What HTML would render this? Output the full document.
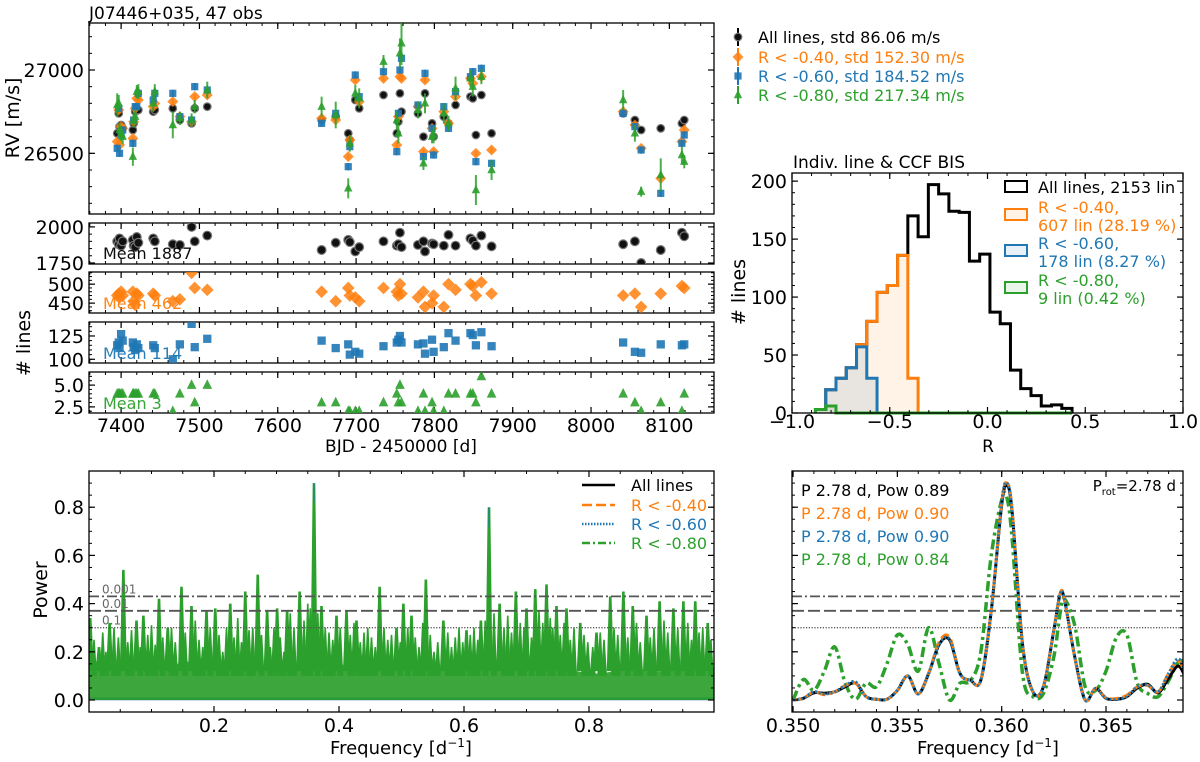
<!DOCTYPE html>
<html><head><meta charset="utf-8"><style>
html,body{margin:0;padding:0;background:#fff}
svg{display:block;font-family:"DejaVu Sans","Liberation Sans",sans-serif}
</style></head><body>
<svg id="fig" width="1200" height="762" viewBox="0 0 1200 762" xmlns="http://www.w3.org/2000/svg">
<defs>
<clipPath id="c-rv"><rect x="89" y="23" width="625" height="191"/></clipPath>
<clipPath id="c-s1"><rect x="89" y="223" width="625" height="41"/></clipPath>
<clipPath id="c-s2"><rect x="89" y="272" width="625" height="41"/></clipPath>
<clipPath id="c-s3"><rect x="89" y="322" width="625" height="41"/></clipPath>
<clipPath id="c-s4"><rect x="89" y="372" width="625" height="41"/></clipPath>
<clipPath id="c-pg"><rect x="89" y="471" width="625" height="241"/></clipPath>
<clipPath id="c-zm"><rect x="792" y="471" width="391" height="241"/></clipPath>
</defs>
<text x="89" y="19" font-size="17">J07446+035, 47 obs</text>
<text x="793" y="168" font-size="17">Indiv. line &amp; CCF BIS</text>
<text transform="translate(19,118) rotate(-90)" text-anchor="middle" font-size="19">RV [m/s]</text>
<text transform="translate(30,343) rotate(-90)" text-anchor="middle" font-size="19"># lines</text>
<text x="401" y="452" text-anchor="middle" font-size="17">BJD - 2450000 [d]</text>
<text transform="translate(745,292) rotate(-90)" text-anchor="middle" font-size="19"># lines</text>
<text x="988" y="452" text-anchor="middle" font-size="17">R</text>
<text transform="translate(47,590) rotate(-90)" text-anchor="middle" font-size="19">Power</text>
<text x="401" y="754" text-anchor="middle" font-size="18">Frequency [d<tspan dy="-7" font-size="12">−1</tspan><tspan dy="7">]</tspan></text>
<text x="988" y="754" text-anchor="middle" font-size="18">Frequency [d<tspan dy="-7" font-size="12">−1</tspan><tspan dy="7">]</tspan></text>
</svg>
<script>
// ---------- data ----------
const times=[7395,7397,7398,7400,7402,7415,7416,7418,7420,7422,7441,7443,7466,7475,7490,7494,7510,7656,7674,7690,7692,7699,7704,7735,7752,7754,7756,7758,7779,7786,7788,7797,7799,7812,7818,7827,7846,7849,7853,7860,7873,8041,8056,8064,8089,8116,8119];
const rvAll=[26620,26740,26660,26670,26650,26640,26680,26750,26760,26760,26750,26760,26770,26700,26680,26770,26780,26700,26720,26620,26580,26820,26770,26850,26620,26690,26860,26750,26740,26600,26860,26680,26600,26720,26680,26790,26840,26830,26610,26850,26620,26740,26700,26640,26650,26680,26700];
const rv040=[26570,26760,26550,26660,26650,26590,26690,26770,26830,26820,26780,26800,26810,26720,26690,26840,26850,26710,26700,26480,26580,26940,26810,26950,26550,26720,26960,26950,26780,26510,26940,26650,26510,26750,26680,26840,26950,26920,26500,26960,26520,26750,26670,26530,26350,26570,26640];
const rv060=[26530,26770,26500,26610,26640,26560,26700,26780,26780,26860,26820,26860,26860,26720,26700,26900,26880,26680,26740,26420,26540,26970,26840,26990,26510,26740,27000,27070,26790,26480,26980,26650,26490,26780,26650,26870,26960,26990,26450,27010,26440,26740,26660,26520,26260,26560,26610];
const rv080=[26790,26800,26640,26620,26600,26480,26700,26720,26870,26870,26800,26870,26670,26710,26700,26780,26880,26780,26730,26290,26560,26860,26830,27050,26700,26620,27100,27160,26760,26440,26800,26600,26610,26740,26680,26890,26950,26900,26280,26960,26400,26820,26620,26270,26370,26490,26450];
const errAll=[8,8,8,8,8,8,8,8,8,8,8,8,8,8,8,8,8,8,8,8,8,8,8,8,8,8,8,8,8,8,8,8,8,8,8,8,8,8,8,8,8,8,8,8,8,8,8];
const err040=[15,15,15,15,15,15,15,15,15,15,15,15,15,15,15,15,15,15,15,15,15,15,15,15,15,15,15,15,15,15,15,15,15,15,15,15,15,15,15,15,15,15,15,15,15,15,15];
const err060=[22,22,22,22,22,22,22,22,22,22,22,22,22,22,22,22,22,22,22,22,22,22,22,22,22,22,22,22,22,22,22,22,22,22,22,22,22,22,22,22,22,22,22,22,22,22,22];
const err080=[70,50,45,45,45,55,45,45,40,45,50,45,80,40,40,40,50,60,80,60,50,50,60,40,55,60,90,130,50,40,60,40,50,60,45,70,50,60,90,45,60,60,50,30,100,50,40];
const nAll=[1900,1880,1920,1870,1900,1910,1870,1860,1930,1890,1920,1900,1880,1875,2000,1900,1940,1840,1890,1910,1895,1830,1860,1900,1870,1880,1960,1860,1875,1900,1830,1885,1880,1870,1945,1870,1920,1905,1870,1940,1865,1880,1900,1750,1840,1960,1935];
const n040=[470,475,465,480,470,480,455,445,475,470,475,470,455,460,530,490,485,480,455,490,470,465,455,490,480,470,500,475,465,480,440,450,470,440,500,485,500,495,470,505,475,470,475,440,475,495,490];
const n060=[115,118,112,127,120,118,113,110,116,112,115,112,100,116,138,113,122,120,112,116,105,108,106,114,118,121,125,118,116,117,106,121,108,113,128,120,128,126,115,129,114,118,108,107,116,115,116];
const n080=[4,4,4,4,4,4,4,4,4,4,4,4,2,4,5,3,5,3,3,2,2,2,2,3,4,3,5,3,2,4,2,3,2,2,4,4,4,4,3,6,4,4,3,2,3,2,4];
const histStart=-0.88, histWidth=0.0525;
const histAll=[3,20,30,39,59,79,104,110,136,170,152,197,189,174,173,131,137,87,77,37,21,15,6,7,4];
const hist040=[3,20,30,39,59,79,104,110,136,30,0,0,0,0,0,0,0,0,0,0,0,0,0,0,0];
const hist060=[3,20,30,39,57,30,0,0,0,0,0,0,0,0,0,0,0,0,0,0,0,0,0,0,0];
const hist080=[3,6,0,0,0,0,0,0,0,0,0,0,0,0,0,0,0,0,0,0,0,0,0,0,0];
const fapLevels=[0.30,0.37,0.43];
const fapLabels=["0.1","0.01","0.001"];
const baseFreq=[0,0.02,0.04,0.06,0.08,0.1,0.12,0.14,0.16,0.18,0.2,0.22,0.24,0.26,0.28,0.3,0.32,0.34,0.36,0.38,0.4,0.42,0.44,0.46,0.48,0.5,0.52,0.54,0.56,0.58,0.6,0.62,0.64,0.66,0.68,0.7,0.72,0.74,0.76,0.78,0.8,0.82,0.84,0.86,0.88,0.9,0.92,0.94,0.96,0.98,1.0];
const basePow=[0.2,0.13,0.15,0.17,0.16,0.14,0.12,0.15,0.16,0.13,0.14,0.12,0.15,0.16,0.13,0.15,0.17,0.14,0.18,0.16,0.15,0.14,0.15,0.13,0.15,0.12,0.14,0.13,0.12,0.13,0.12,0.14,0.16,0.15,0.16,0.13,0.15,0.16,0.13,0.12,0.11,0.11,0.12,0.13,0.13,0.12,0.12,0.13,0.15,0.15,0.13];
const spikeFreq=[0.002,0.016,0.033,0.055,0.076,0.087,0.112,0.126,0.148,0.164,0.188,0.202,0.226,0.25,0.27,0.285,0.301,0.317,0.337,0.36,0.372,0.396,0.412,0.428,0.465,0.492,0.503,0.516,0.539,0.567,0.604,0.627,0.64,0.657,0.683,0.7,0.714,0.732,0.748,0.764,0.786,0.812,0.834,0.855,0.87,0.892,0.913,0.935,0.951,0.97,0.99];
const spikePow=[0.34,0.22,0.32,0.54,0.33,0.35,0.42,0.3,0.47,0.39,0.37,0.38,0.4,0.45,0.52,0.37,0.38,0.37,0.45,0.9,0.39,0.35,0.37,0.33,0.47,0.3,0.4,0.35,0.5,0.33,0.29,0.33,0.8,0.4,0.45,0.38,0.46,0.48,0.39,0.38,0.32,0.28,0.43,0.45,0.39,0.35,0.41,0.38,0.41,0.41,0.32];
const minorFreq=[0.008,0.022,0.027,0.04,0.047,0.062,0.068,0.082,0.094,0.1,0.106,0.118,0.132,0.138,0.154,0.17,0.176,0.182,0.194,0.208,0.214,0.22,0.232,0.238,0.244,0.256,0.262,0.276,0.29,0.296,0.306,0.312,0.322,0.328,0.344,0.35,0.354,0.366,0.378,0.384,0.39,0.402,0.418,0.424,0.434,0.44,0.446,0.452,0.458,0.472,0.478,0.484,0.498,0.51,0.522,0.528,0.534,0.546,0.552,0.558,0.574,0.58,0.586,0.592,0.598,0.61,0.616,0.622,0.634,0.648,0.664,0.67,0.676,0.69,0.696,0.708,0.72,0.726,0.738,0.742,0.754,0.76,0.77,0.776,0.792,0.798,0.806,0.818,0.824,0.84,0.846,0.862,0.876,0.882,0.898,0.904,0.92,0.926,0.942,0.958,0.964,0.976,0.982,0.995];
const minorPow=[0.25,0.28,0.2,0.3,0.26,0.24,0.29,0.22,0.27,0.31,0.23,0.26,0.3,0.24,0.28,0.33,0.25,0.22,0.3,0.27,0.2,0.3,0.26,0.34,0.24,0.29,0.3,0.27,0.22,0.3,0.26,0.2,0.36,0.3,0.33,0.4,0.38,0.36,0.3,0.28,0.25,0.3,0.27,0.32,0.24,0.28,0.3,0.26,0.22,0.3,0.25,0.27,0.24,0.3,0.26,0.22,0.32,0.27,0.2,0.24,0.28,0.22,0.26,0.3,0.24,0.27,0.3,0.25,0.33,0.36,0.3,0.35,0.28,0.32,0.3,0.26,0.37,0.32,0.34,0.3,0.27,0.32,0.25,0.3,0.27,0.24,0.22,0.28,0.25,0.3,0.27,0.26,0.32,0.24,0.26,0.3,0.33,0.28,0.3,0.32,0.25,0.28,0.3,0.25];
const zoomFreq=[0.3500,0.3505,0.3510,0.3515,0.3520,0.3525,0.3530,0.3535,0.3540,0.3545,0.3550,0.3555,0.3560,0.3565,0.3570,0.3575,0.3580,0.3585,0.3590,0.3595,0.3600,0.36025,0.3605,0.3610,0.3615,0.3620,0.3625,0.3628,0.3630,0.3635,0.3640,0.3645,0.3650,0.3655,0.3660,0.3665,0.3670,0.3675,0.3680,0.3685,0.3690];
const zoomAll=[0,0.007,0.03,0.028,0.034,0.055,0.07,0.014,0.003,0.003,0.04,0.1,0.025,0.11,0.23,0.25,0.11,0.082,0.082,0.37,0.81,0.89,0.78,0.23,0.034,0.055,0.29,0.44,0.42,0.18,0.0,0.048,0.007,0.003,0.014,0.05,0.065,0.03,0.09,0.14,0.05];
const zoom040=[0,0.007,0.034,0.022,0.034,0.06,0.07,0.014,0.003,0.003,0.04,0.1,0.025,0.11,0.24,0.26,0.11,0.082,0.082,0.37,0.82,0.90,0.79,0.23,0.034,0.055,0.29,0.44,0.42,0.18,0.0,0.048,0.01,0.006,0.02,0.055,0.06,0.034,0.11,0.16,0.055];
const zoom060=[0,0.007,0.034,0.025,0.034,0.06,0.075,0.014,0.003,0.003,0.04,0.1,0.025,0.11,0.23,0.253,0.11,0.082,0.082,0.37,0.82,0.90,0.78,0.23,0.034,0.055,0.29,0.44,0.42,0.18,0.0,0.048,0.007,0.003,0.014,0.055,0.062,0.034,0.11,0.17,0.055];
const zoom080=[0,0.085,0.04,0.12,0.22,0.07,0.003,0.07,0.055,0.15,0.27,0.23,0.12,0.30,0.15,0.0,0.07,0.08,0.2,0.60,0.83,0.84,0.67,0.11,0.014,0.027,0.18,0.36,0.42,0.31,0.055,0.04,0.12,0.26,0.27,0.07,0.027,0.014,0.08,0.16,0.15];
const peakTexts=["P 2.78 d, Pow 0.89","P 2.78 d, Pow 0.90","P 2.78 d, Pow 0.90","P 2.78 d, Pow 0.84"];

// ---------- helpers ----------
const NS='http://www.w3.org/2000/svg';
const svg=document.getElementById('fig');
const K='#000',O='#ff7f0e',B='#1f77b4',G='#2ca02c';
function mk(tag,attrs,parent){const e=document.createElementNS(NS,tag);for(const k in attrs)e.setAttribute(k,attrs[k]);(parent||svg).appendChild(e);return e;}
function lin(d0,d1,r0,r1){return v=>r0+(v-d0)/(d1-d0)*(r1-r0);}
function grp(clip,name){const g=mk('g',clip?{'clip-path':'url(#'+clip+')'}:{});return g;}
function range(a,b,s){const r=[];for(let v=a;v<=b+s*1e-6;v+=s)r.push(+v.toFixed(6));return r;}
function axes(name,x0,x1,y0,y1,sx,sy,xMaj,xMin,yMaj,yMin,xLab,yLab,xLabY){
  const g=grp(null,name);
  for(const v of xMin){const x=sx(v);if(x<x0||x>x1)continue;mk('line',{x1:x,x2:x,y1:y1,y2:y1-3,stroke:'#000','stroke-width':1},g);mk('line',{x1:x,x2:x,y1:y0,y2:y0+3,stroke:'#000','stroke-width':1},g);}
  for(const v of xMaj){const x=sx(v);if(x<x0-0.5||x>x1+0.5)continue;mk('line',{x1:x,x2:x,y1:y1,y2:y1-6,stroke:'#000','stroke-width':1.2},g);mk('line',{x1:x,x2:x,y1:y0,y2:y0+6,stroke:'#000','stroke-width':1.2},g);}
  for(const v of yMin){const y=sy(v);if(y<y0||y>y1)continue;mk('line',{x1:x0,x2:x0+3,y1:y,y2:y,stroke:'#000','stroke-width':1},g);mk('line',{x1:x1,x2:x1-3,y1:y,y2:y,stroke:'#000','stroke-width':1},g);}
  for(const v of yMaj){const y=sy(v);if(y<y0-0.5||y>y1+0.5)continue;mk('line',{x1:x0,x2:x0+6,y1:y,y2:y,stroke:'#000','stroke-width':1.2},g);mk('line',{x1:x1,x2:x1-6,y1:y,y2:y,stroke:'#000','stroke-width':1.2},g);}
  if(xLab)for(let i=0;i<xMaj.length;i++){const t=mk('text',{x:sx(xMaj[i]),y:xLabY,'text-anchor':'middle','font-size':19},g);t.textContent=xLab[i];}
  if(yLab)for(let i=0;i<yMaj.length;i++){const t=mk('text',{x:x0-5,y:sy(yMaj[i])+7,'text-anchor':'end','font-size':19},g);t.textContent=yLab[i];}
  const r=mk('rect',{x:x0,y:y0,width:x1-x0,height:y1-y0,fill:'none',stroke:'#000','stroke-width':1.3},g);
  
  
}
function marker(kind,x,y,color,g,s){
  s=s||1;let e;
  if(kind==='o'){e=mk('circle',{cx:x,cy:y,r:3.8*s,fill:'#111',stroke:'#777','stroke-width':1.2},g);}
  else if(kind==='d'){const a=5.5*s;e=mk('polygon',{points:`${x},${y-a} ${x+a},${y} ${x},${y+a} ${x-a},${y}`,fill:color,'fill-opacity':0.85},g);}
  else if(kind==='s'){const a=3.6*s;e=mk('rect',{x:x-a,y:y-a,width:2*a,height:2*a,fill:color,'fill-opacity':0.9},g);}
  else {const a=4.2*s;e=mk('polygon',{points:`${x},${y-a-1} ${x+a},${y+a-1} ${x-a},${y+a-1}`,fill:color,'fill-opacity':0.9},g);}
  return e;
}
function catmull(pts){let d=`M${pts[0][0]},${pts[0][1]}`;for(let i=0;i<pts.length-1;i++){const p0=pts[Math.max(0,i-1)],p1=pts[i],p2=pts[i+1],p3=pts[Math.min(pts.length-1,i+2)];const c1=[p1[0]+(p2[0]-p0[0])/6,p1[1]+(p2[1]-p0[1])/6],c2=[p2[0]-(p3[0]-p1[0])/6,p2[1]-(p3[1]-p1[1])/6];d+=`C${c1[0]},${c1[1]} ${c2[0]},${c2[1]} ${p2[0]},${p2[1]}`;}return d;}

// ---------- RV panel ----------
const sxT=lin(7359,8157,89,714);
const syRV=lin(26136,27282,214,23);
const tMaj=range(7400,8100,100), tMin=range(7360,8150,20);
axes('rv-panel',89,714,23,214,sxT,syRV,tMaj,tMin,[26500,27000],range(26200,27200,100),null,['26500','27000']);
const series=[[rvAll,errAll,'o',K,'all'],[rv040,err040,'d',O,'r040'],[rv060,err060,'s',B,'r060'],[rv080,err080,'^',G,'r080']];
const gRV=grp('c-rv','rv-points');
for(const [vals,errs,kind,col,nm] of series){
  for(let i=0;i<times.length;i++){
    const x=sxT(times[i]),y=syRV(vals[i]);
    const eb=mk('line',{x1:x,x2:x,y1:syRV(vals[i]-errs[i]),y2:syRV(vals[i]+errs[i]),stroke:col==K?'#222':col,'stroke-width':2,'stroke-opacity':0.85},gRV);
    
    
    const m=marker(kind,x,y,col,gRV);
    
    
  }
}
// ---------- sub panels ----------
const subs=[
 [nAll,'o',K,'c-s1',223,264,[1743,2027],[1750,2000],range(1750,2000,50),['1750','2000'],'Mean 1887',259,'nlines-all'],
 [n040,'d',O,'c-s2',272,313,[424,532],[450,500],range(430,530,10),['450','500'],'Mean 462',309,'nlines-r040'],
 [n060,'s',B,'c-s3',322,363,[96,140],[100,125],range(100,140,5),['100','125'],'Mean 114',359,'nlines-r060'],
 [n080,'^',G,'c-s4',372,413,[1.8,6.5],[2.5,5.0],range(2,6.5,0.5),['2.5','5.0'],'Mean 3',409,'nlines-r080']];
for(let k=0;k<subs.length;k++){
  const [vals,kind,col,clip,y0,y1,dom,maj,mnr,lab,meanTxt,meanY,nm]=subs[k];
  const sy=lin(dom[0],dom[1],y1,y0);
  axes(nm+'-panel',89,714,y0,y1,sxT,sy,tMaj,tMin,maj,mnr,k===3?tMaj.map(String):null,lab,432);
  const g=grp(clip,nm+'-points');
  for(let i=0;i<times.length;i++){
    const m=marker(kind,sxT(times[i]),sy(vals[i]),col,g,1.15);
    
    
  }
  const t=mk('text',{x:103,y:meanY,'font-size':16,fill:col,'fill-opacity':0.95});
  t.textContent=meanTxt;
  
  
}
// ---------- top legend ----------
const legRows=[['o',K,'All lines, std 86.06 m/s',37],['d',O,'R < -0.40, std 152.30 m/s',57],['s',B,'R < -0.60, std 184.52 m/s',76],['^',G,'R < -0.80, std 217.34 m/s',95]];
for(const [kind,col,txt,y] of legRows){
  const g=grp(null,'rv-legend-entry');
  mk('line',{x1:738,x2:738,y1:y-9,y2:y+9,stroke:col,'stroke-width':2},g);
  marker(kind,738,y,col,g);
  const t=mk('text',{x:758,y:y+6,'font-size':16,fill:col},g);t.textContent=txt;
}
// ---------- histogram ----------
const sxH=lin(-1,1,792,1183), syH=lin(0,207,413,173);
const hg=grp(null,'histogram-bars');
for(const [cnt,col,fill,nm] of [[histAll,K,'none','all'],[hist040,O,'rgba(255,127,14,0.1)','r040'],[hist060,B,'rgba(31,119,180,0.1)','r060'],[hist080,G,'rgba(44,160,44,0.1)','r080']]){
  let d=`M${sxH(histStart)},${syH(0)}`;
  for(let i=0;i<cnt.length;i++){d+=`L${sxH(histStart+i*histWidth)},${syH(cnt[i])}L${sxH(histStart+(i+1)*histWidth)},${syH(cnt[i])}`;}
  d+=`L${sxH(histStart+cnt.length*histWidth)},${syH(0)}`;
  const p=mk('path',{d:d,fill:fill,stroke:col,'stroke-width':3,'stroke-linejoin':'miter'},hg);
  
  
}
axes('histogram-panel',792,1183,173,413,sxH,syH,[-1,-0.5,0,0.5,1],range(-1,1,0.1),[0,50,100,150,200],range(0,200,10),['−1.0','−0.5','0.0','0.5','1.0'],['0','50','100','150','200'],428);
const hl=[[K,'none',['All lines, 2153 lin'],187],[O,'rgba(255,127,14,0.1)',['R < -0.40,','607 lin (28.19 %)'],207],[B,'rgba(31,119,180,0.1)',['R < -0.60,','178 lin (8.27 %)'],243],[G,'rgba(44,160,44,0.1)',['R < -0.80,','9 lin (0.42 %)'],280]];
for(const [col,fill,lines,y] of hl){
  const g=grp(null,'histogram-legend-entry');
  const by=lines.length>1?y+8:y;
  mk('rect',{x:1005,y:by-6,width:22,height:11,fill:fill,stroke:col,'stroke-width':2},g);
  lines.forEach((s,j)=>{const t=mk('text',{x:1038,y:y+6+j*18,'font-size':16,fill:col},g);t.textContent=s;});
}
// ---------- periodogram ----------
const sxP=lin(0,1,89,714), syP=lin(0,1,700,459);
const pg=grp('c-pg','periodogram-series');
mk('line',{x1:89,x2:714,y1:syP(0.005),y2:syP(0.005),stroke:B,'stroke-width':3},pg);
let bd=`M${sxP(0)},${syP(0)}`;
for(let i=0;i<baseFreq.length;i++)bd+=`L${sxP(baseFreq[i])},${syP(basePow[i])}`;
bd+=`L${sxP(1)},${syP(0)}Z`;
const bp=mk('path',{d:bd,fill:G,'fill-opacity':0.92},pg);


for(let i=0;i<minorFreq.length;i++){
  const x=sxP(minorFreq[i]);
  const s=mk('polygon',{points:`${x-3},${syP(0.1)} ${x-0.8},${syP(minorPow[i])} ${x+0.8},${syP(minorPow[i])} ${x+3},${syP(0.1)}`,fill:G},pg);
  
  
}
for(let i=0;i<spikeFreq.length;i++){
  const x=sxP(spikeFreq[i]);
  const s=mk('polygon',{points:`${x-3.5},${syP(0.12)} ${x-1.3},${syP(spikePow[i])} ${x+1.3},${syP(spikePow[i])} ${x+3.5},${syP(0.12)}`,fill:G},pg);
  
  
  if(spikePow[i]>0.7){mk('line',{x1:x,x2:x,y1:syP(spikePow[i]-0.08),y2:syP(spikePow[i]),stroke:B,'stroke-width':1.5,'stroke-dasharray':'1.5 1'},pg);}
}
const fapStyles=['1.2 1.6','12 4','10 3 2 3'];
for(const [sx,x0,x1,clip,lbl] of [[sxP,89,714,'c-pg',true],[null,792,1183,'c-zm',false]]){
  const g=grp(clip,'fap-lines');
  fapLevels.forEach((lv,i)=>{
    const l=mk('line',{x1:x0,x2:x1,y1:syP(lv),y2:syP(lv),stroke:'#555','stroke-width':i?1.8:1.3,'stroke-dasharray':fapStyles[i]},g);
    
    
    if(lbl){const t=mk('text',{x:102,y:syP(lv)-3,'font-size':12,fill:'#666'},g);t.textContent=fapLabels[i];}
  });
}
axes('periodogram-panel',89,714,471,712,sxP,syP,[0.2,0.4,0.6,0.8],range(0,1,0.05),[0,0.2,0.4,0.6,0.8],range(0,0.9,0.05),['0.2','0.4','0.6','0.8'],['0.0','0.2','0.4','0.6','0.8'],732);
const pl=[[K,'none','All lines',485],[O,'10 4','R < -0.40',505],[B,'1.5 1.5','R < -0.60',524],[G,'8 3 2 3','R < -0.80',543]];
for(const [col,da,txt,y] of pl){
  const g=grp(null,'periodogram-legend-entry');
  mk('line',{x1:582,x2:615,y1:y,y2:y,stroke:col,'stroke-width':2.5,'stroke-dasharray':da},g);
  const t=mk('text',{x:631,y:y+6,'font-size':16,fill:col},g);t.textContent=txt;
}
// ---------- zoom ----------
const sxZ=lin(0.34995,0.36869,792,1183);
const zg=grp('c-zm','zoom-series');
for(const [vals,col,da,w,nm] of [[zoom080,G,'10 4 3 4',3.5,'r080'],[zoomAll,K,'none',3,'all'],[zoom040,O,'9 4',3,'r040'],[zoom060,B,'2 2',3,'r060']]){
  const pts=zoomFreq.map((f,i)=>[sxZ(f),syP(vals[i])]);
  const p=mk('path',{d:catmull(pts),fill:'none',stroke:col,'stroke-width':w,'stroke-dasharray':da},zg);
  
  
}
axes('zoom-panel',792,1183,471,712,sxZ,syP,[0.35,0.355,0.36,0.365],range(0.35,0.368,0.001),[0,0.2,0.4,0.6,0.8],range(0,0.9,0.05),['0.350','0.355','0.360','0.365'],null,732);
[K,O,B,G].forEach((c,i)=>{const t=mk('text',{x:801,y:496+i*23,'font-size':16,fill:c});t.textContent=peakTexts[i];});
const pr=mk('text',{x:1176,y:491,'font-size':15,'text-anchor':'end'});
pr.innerHTML='P<tspan font-size="10" dy="4">rot</tspan><tspan dy="-4">=2.78 d</tspan>';


</script>
</body></html>
